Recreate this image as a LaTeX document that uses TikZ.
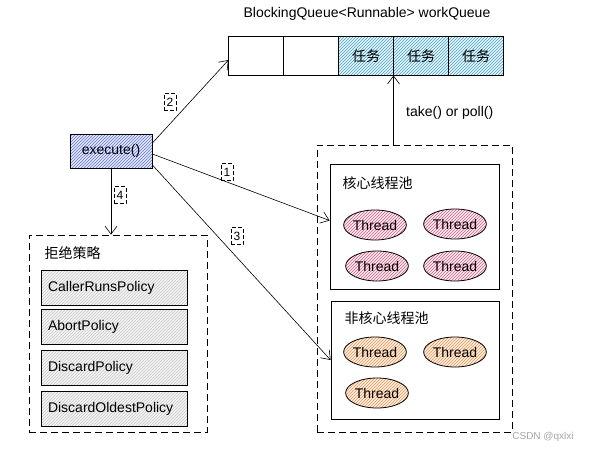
\documentclass[tikz,border=0pt]{standalone}
\usepackage{fontspec}
\setmainfont{Liberation Sans}
\newfontfamily\cjk{Noto Sans CJK SC}
\usepackage{tikz}
\usetikzlibrary{patterns,positioning,arrows.meta,shapes.geometric}

\definecolor{execblue}{RGB}{95,115,220}
\definecolor{taskcyan}{RGB}{70,165,200}
\definecolor{threadpink}{RGB}{215,95,135}
\definecolor{threadorange}{RGB}{235,150,80}

\begin{document}
\begin{tikzpicture}[x=1pt, y=-1pt, font=\fontsize{14}{16}\selectfont,
    >={Straight Barb[length=8pt,width=12pt]},
    cell/.style={draw, thick, minimum width=55pt, minimum height=39pt, inner sep=0pt, outer sep=0pt},
    task/.style={cell, preaction={fill=taskcyan!12}, pattern=north east lines, pattern color=taskcyan},
    thread/.style={ellipse, draw, thick, minimum width=56pt, minimum height=30pt, inner sep=0pt},
    core/.style={thread, preaction={fill=threadpink!12}, pattern=north east lines, pattern color=threadpink},
    noncore/.style={thread, preaction={fill=threadorange!15}, pattern=north east lines, pattern color=threadorange},
    policy/.style={draw, thick, preaction={fill=gray!8}, pattern=north east lines, pattern color=gray!45,
      text width=132pt, inner xsep=7pt, minimum height=35pt, align=left},
    group/.style={draw, thick, dash pattern=on 7pt off 4pt},
    num/.style={draw, dash pattern=on 4pt off 2pt, minimum width=12pt, minimum height=17pt, inner sep=1pt,
      font={\fontsize{12}{14}\selectfont}},
    link/.style={->, semithick}]
  \useasboundingbox (0,0) rectangle (589,453);

% queue
  \node (title) at (367,14) {BlockingQueue<Runnable> workQueue};
  \node[cell] (q1) at (256,56) {};
  \node[cell, right=0pt of q1] (q2) {};
  \node[task, right=0pt of q2] (q3) {\cjk 任务};
  \node[task, right=0pt of q3] (q4) {\cjk 任务};
  \node[task, right=0pt of q4] (q5) {\cjk 任务};

% execute
  \node[draw, thick, minimum width=82pt, minimum height=34pt, preaction={fill=execblue!15},
    pattern=north east lines, pattern color=execblue] (exec) at (111,151) {execute()};

% thread pool
  \node[group, minimum width=195pt, minimum height=287pt] (pool) at (414.5,288.5) {};
  \node[draw, thick, minimum width=169pt, minimum height=125pt] (corebox) at (414.5,226.5) {};
  \node[anchor=west] (corelabel) at (339,183) {\cjk 核心线程池};
  \node[core] (t1) at (375,225) {Thread};
  \node[core] (t2) at (455,224) {Thread};
  \node[core] (t3) at (377,266) {Thread};
  \node[core] (t4) at (455,266) {Thread};
  \node[draw, thick, minimum width=168pt, minimum height=118pt] (noncorebox) at (415,360) {};
  \node[anchor=west] (noncorelabel) at (341,318) {\cjk 非核心线程池};
  \node[noncore] (t5) at (375,352) {Thread};
  \node[noncore] (t6) at (455,352) {Thread};
  \node[noncore] (t7) at (377,393) {Thread};

% reject policies
  \node[group, minimum width=178pt, minimum height=197pt] (reject) at (118,333.5) {};
  \node[anchor=west] (rejectlabel) at (41,253) {\cjk 拒绝策略};
  \node[policy] (p1) at (114,288) {CallerRunsPolicy};
  \node[policy] (p2) at (114,326.5) {AbortPolicy};
  \node[policy] (p3) at (114,368) {DiscardPolicy};
  \node[policy] (p4) at (114,409) {DiscardOldestPolicy};

% arrows
  \draw[link] ([yshift=8pt]exec.east) -- ([yshift=-4pt]q1.west);
  \draw[link] ([yshift=-3pt]exec.east) -- ([yshift=6pt]corebox.west);
  \draw[link] ([yshift=-14pt]exec.east) -- (noncorebox.west);
  \draw[link] (exec.south) -- (exec.south |- reject.north);
  \draw[link] (q3.south east |- pool.north) -- (q3.south east)
    node[midway, right=9pt, yshift=-3pt] (take) {take() or poll()};

  \node[num] (n2) at (170,102) {2};
  \node[num] (n1) at (227,172) {1};
  \node[num] (n3) at (237,236) {3};
  \node[num] (n4) at (120,195) {4};

  \node[text=gray!70, font={\fontsize{10}{12}\selectfont}] (mark) at (543,437) {CSDN @qxlxi};
\end{tikzpicture}
\end{document}
